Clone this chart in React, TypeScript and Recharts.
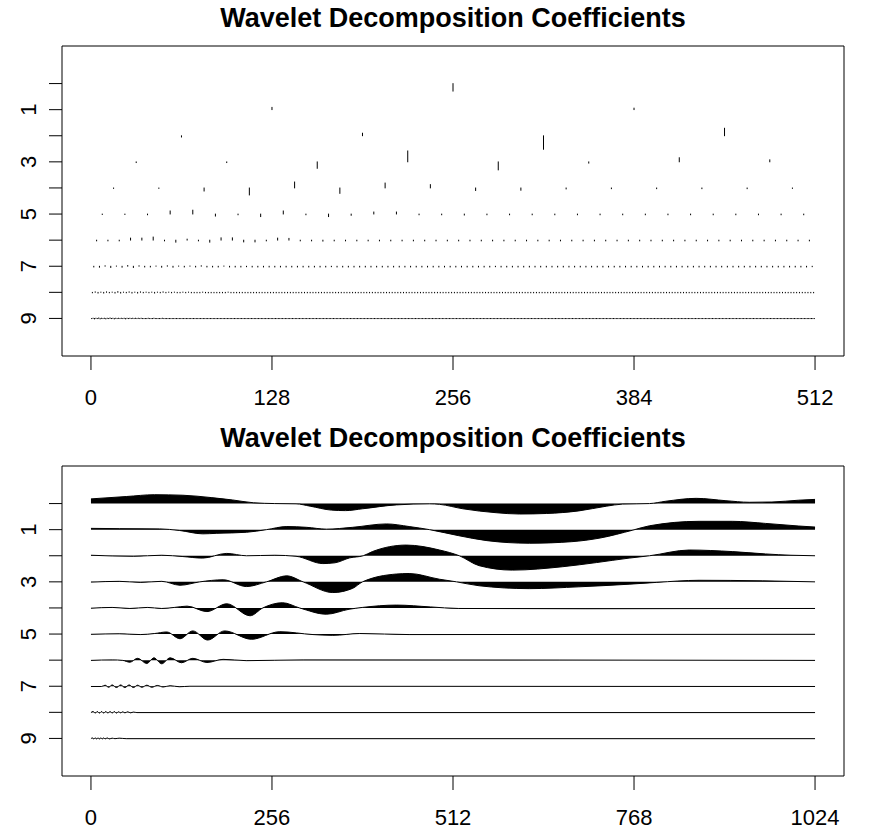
import { ComposedChart, Line, Area, XAxis, YAxis, ReferenceArea } from "recharts";

const FONT = '"Liberation Sans", Arial, Helvetica, sans-serif';
const TITLE = "Wavelet Decomposition Coefficients";

const levels = [0, 1, 2, 3, 4, 5, 6, 7, 8, 9];
const dwtTicks = [0, 128, 256, 384, 512];
const ndwtTicks = [0, 256, 512, 768, 1024];

// top panel: one mark per coefficient, value in level units (+ = drawn downwards)
const dwtLevel0 = [0.29];
const dwtLevel1 = [-0.09, -0.06];
const dwtLevel2 = [0.05, -0.1, 0.52, -0.29];
const dwtLevel3 = [0.03, 0.03, 0.25, -0.42, 0.31, 0.05, -0.16, -0.08];
const dwtLevel4 = [0.02, 0.02, 0.12, 0.27, -0.23, 0.21, -0.19, -0.13, 0.1, 0.09, 0.04, 0.03, 0.03, 0.03, 0.03, 0.02];
const dwtLevel5 = [
  0.02, 0.02, 0.03, -0.12, -0.15, 0.08, 0.03, 0.1, -0.12, 0.03, 0.1, 0.05, -0.08, -0.08, 0.03, 0.03,
  0.04, 0.03, 0.03, 0.03, 0.03, 0.03, 0.03, 0.03, 0.03, 0.03, 0.03, 0.03, 0.03, 0.03, 0.03, 0.03,
];
const dwtLevel6 = [
  0.03, 0.03, 0.03, -0.08, -0.08, -0.12, 0.03, 0.08, -0.04, 0.03, 0.08, -0.09, -0.09, 0.07, 0.07, 0.03,
  -0.08, -0.07, 0.03, 0.03, 0.04, 0.03, 0.03, 0.03, 0.03, 0.03, 0.03, 0.03, 0.03, 0.03, 0.03, 0.03,
  0.03, 0.03, 0.03, 0.03, 0.03, 0.03, 0.03, 0.03, 0.03, 0.03, 0.03, 0.03, 0.03, 0.03, 0.03, 0.03,
  0.03, 0.03, 0.03, 0.03, 0.03, 0.03, 0.03, 0.03, 0.03, 0.03, 0.03, 0.03, 0.03, 0.03, 0.03, 0.03,
];
// finest levels written as one char per coefficient: "0"-"9" = +hundredths, "a"-"i" = -hundredths
const dwtLevel7 =
  "34b5a4c5b33a4b4a3a3b333a33323333" +
  "33333333332333333333333333333333" +
  "33333332333333333333333333333333" +
  "33333333333333333333333333333332";
const dwtLevel8 =
  "2b3a3b2a3c3a2b3a3b2a2a3a2b2a2a22" +
  "a2a2222a22222222a222222222222222" +
  "22222222222222222222222222222222" +
  "22222222222222222222222222222222" +
  "22222222222222222222222222222222" +
  "22222222222222222222222222222222" +
  "22222222222222222222222222222222" +
  "22222222222222222222222222222222";
const dwtLevel9 =
  "1a2a1b2a1a2a1b1a2a1a1a1a2a1a1a1a" +
  "1a1a1111a111a11111a1111111111111" +
  "11111111111111111111111111111111" +
  "11111111111111111111111111111111" +
  "11111111111111111111111111111111" +
  "11111111111111111111111111111111" +
  "11111111111111111111111111111111" +
  "11111111111111111111111111111111" +
  "11111111111111111111111111111111" +
  "11111111111111111111111111111111" +
  "11111111111111111111111111111111" +
  "11111111111111111111111111111111" +
  "11111111111111111111111111111111" +
  "11111111111111111111111111111111" +
  "11111111111111111111111111111111" +
  "11111111111111111111111111111111";

// bottom panel: [position, value] knots per level (+ = below the level line)
const ndwtLevel0 = [
  [0, -0.18], [50, -0.27], [90, -0.34], [130, -0.32], [170, -0.23], [200, -0.14], [230, -0.03], [260, 0],
  [290, 0.01], [310, 0.1], [340, 0.25], [360, 0.27], [384, 0.2], [432, 0.05], [479, 0.01], [493, 0.03],
  [526, 0.2], [573, 0.35], [606, 0.4], [644, 0.38], [690, 0.28], [729, 0.1], [752, 0.02], [790, 0],
  [813, -0.09], [856, -0.2], [898, -0.11], [931, -0.05], [963, -0.06], [1001, -0.13], [1024, -0.16],
];
const ndwtLevel1 = [
  [0, -0.05], [40, -0.04], [97, -0.03], [125, 0.03], [158, 0.16], [178, 0.14], [220, 0.1], [248, 0],
  [277, -0.12], [305, -0.09], [333, -0.02], [370, -0.09], [418, -0.22], [450, -0.12], [479, 0],
  [520, 0.23], [560, 0.42], [620, 0.52], [680, 0.46], [720, 0.32], [766, 0.02], [790, -0.15],
  [860, -0.32], [907, -0.32], [954, -0.24], [1001, -0.14], [1024, -0.1],
];
const ndwtLevel2 = [
  [0, -0.02], [60, 0.02], [100, -0.02], [130, 0.03], [158, 0.09], [192, -0.09], [220, 0], [260, -0.02],
  [290, 0.02], [328, 0.3], [345, 0.27], [366, 0.08], [385, 0], [398, -0.16], [446, -0.41], [493, -0.22],
  [521, 0], [549, 0.38], [596, 0.55], [667, 0.42], [715, 0.26], [761, 0.09], [790, 0], [846, -0.22],
  [907, -0.16], [954, -0.07], [990, -0.02], [1024, 0],
];
const ndwtLevel3 = [
  [0, 0.01], [40, -0.02], [70, 0.02], [100, -0.02], [126, 0.13], [154, 0], [187, -0.08], [220, 0.18],
  [248, 0], [277, -0.23], [300, 0], [342, 0.41], [370, 0.25], [384, 0], [432, -0.3], [450, -0.32],
  [493, -0.1], [517, 0], [549, 0.15], [620, 0.26], [690, 0.19], [761, 0.09], [800, 0.02], [860, -0.06],
  [950, -0.04], [1024, 0],
];
const ndwtLevel4 = [
  [0, 0.01], [30, -0.02], [55, 0.02], [80, -0.02], [100, 0.02], [118, -0.02], [136, -0.07], [164, 0.14],
  [192, -0.16], [225, 0.3], [243, 0], [271, -0.2], [295, 0], [333, 0.24], [365, 0.05], [384, -0.02],
  [432, -0.11], [480, -0.04], [520, 0.02], [700, 0.03], [1024, 0.02],
];
const ndwtLevel5 = [
  [0, 0.01], [40, -0.01], [70, 0.02], [90, -0.02], [107, -0.08], [126, 0.18], [144, -0.12], [165, 0.23],
  [189, -0.12], [227, 0.2], [267, -0.09], [314, 0.02], [342, 0.05], [380, -0.02], [450, 0.02], [1024, 0.01],
];
const ndwtLevel6 = [
  [0, 0.01], [30, -0.01], [45, 0.01], [55, 0.08], [66, -0.07], [79, 0.13], [89, -0.09], [100, 0.14],
  [112, -0.09], [128, 0.1], [144, -0.07], [164, 0.09], [187, -0.03], [220, 0.02], [300, -0.01], [1024, 0.01],
];
const ndwtLevel7 = [
  [0, 0.01], [15, 0.01], [20, -0.04], [25, 0.04], [30, -0.05], [36, 0.05], [42, -0.05], [48, 0.05],
  [54, -0.05], [60, 0.05], [66, -0.04], [72, 0.04], [79, -0.04], [86, 0.04], [94, -0.03], [102, 0.03],
  [112, -0.02], [125, 0.02], [140, 0], [1024, 0.01],
];
const ndwtLevel8 = [
  [0, 0.01], [3, -0.03], [6, 0.03], [9, -0.03], [12, 0.03], [15, -0.03], [18, 0.03], [21, -0.03],
  [24, 0.03], [27, -0.03], [30, 0.03], [33, -0.03], [36, 0.03], [39, -0.02], [42, 0.02], [45, -0.02],
  [48, 0.02], [52, -0.02], [56, 0.02], [60, -0.01], [65, 0.01], [1024, 0.01],
];
const ndwtLevel9 = [
  [0, 0.01], [2, -0.02], [4, 0.02], [6, -0.02], [8, 0.02], [10, -0.02], [12, 0.02], [14, -0.02],
  [16, 0.02], [18, -0.02], [20, 0.02], [23, -0.02], [26, 0.02], [30, -0.01], [34, 0.01], [40, -0.01],
  [50, 0.01], [1024, 0.01],
];

const decodeMarks = (code: string) =>
  code.split("").map((c) => (c >= "a" ? -(c.charCodeAt(0) - 96) / 100 : Number(c) / 100));

const dwtCoefs = [
  dwtLevel0, dwtLevel1, dwtLevel2, dwtLevel3, dwtLevel4, dwtLevel5, dwtLevel6,
  decodeMarks(dwtLevel7), decodeMarks(dwtLevel8), decodeMarks(dwtLevel9),
];
const ndwtKnots = [
  ndwtLevel0, ndwtLevel1, ndwtLevel2, ndwtLevel3, ndwtLevel4,
  ndwtLevel5, ndwtLevel6, ndwtLevel7, ndwtLevel8, ndwtLevel9,
];

// segments: base point, tip point, then a gap
const dwtData = dwtCoefs.flatMap((coefs, level) => {
  const step = 512 / coefs.length;
  return coefs.flatMap((v, k) => {
    const x = (k + 0.5) * step;
    return [
      { x, y: level },
      { x, y: level + v },
      { x, y: null },
    ];
  });
});

const ndwtData = ndwtKnots.flatMap((knots, level) =>
  knots.map(([x, v]) => ({ x, [`l${level}`]: level + v }))
);

const Y_DOMAIN = [-1.44, 10.44];

const XTick = (props: any) => {
  const { x, y, payload } = props;
  return (
    <text x={x} y={y + 33} textAnchor="middle" fontSize={22} fontFamily={FONT} fill="#000">
      {payload.value}
    </text>
  );
};

const YTick = (props: any) => {
  const { y, payload } = props;
  if (payload.value % 2 === 0) return <g />;
  return (
    <text
      x={36}
      y={y}
      transform={`rotate(-90, 36, ${y})`}
      textAnchor="middle"
      fontSize={22}
      fontFamily={FONT}
      fill="#000"
    >
      {payload.value}
    </text>
  );
};

function Title({ top }: { top: number }) {
  return (
    <div
      style={{
        position: "absolute",
        left: 62,
        width: 782,
        top,
        textAlign: "center",
        fontFamily: FONT,
        fontWeight: "bold",
        fontSize: 27,
        lineHeight: "32px",
        color: "#000",
      }}
    >
      {TITLE}
    </div>
  );
}

function Axes({ xMax, ticks }: { xMax: number; ticks: number[] }) {
  const pad = xMax * 0.04;
  return [
    <XAxis
      key="x"
      type="number"
      dataKey="x"
      domain={[-pad, xMax + pad]}
      allowDataOverflow
      ticks={ticks}
      interval={0}
      axisLine={false}
      tickLine={{ stroke: "#000" }}
      tickSize={14}
      height={60}
      tick={(p: any) => <XTick {...p} />}
    />,
    <YAxis
      key="y"
      type="number"
      domain={Y_DOMAIN}
      allowDataOverflow
      reversed
      ticks={levels}
      interval={0}
      axisLine={false}
      tickLine={{ stroke: "#000" }}
      tickSize={13}
      width={62}
      tick={(p: any) => <YTick {...p} />}
    />,
    <ReferenceArea
      key="box"
      x1={-pad}
      x2={xMax + pad}
      y1={Y_DOMAIN[0]}
      y2={Y_DOMAIN[1]}
      fill="none"
      stroke="#000"
      strokeWidth={1}
      ifOverflow="visible"
    />,
  ];
}

export default function App() {
  return (
    <div
      style={{
        position: "absolute",
        left: 0,
        top: 0,
        width: 877,
        height: 832,
        overflow: "hidden",
        background: "#fff",
      }}
    >
      <Title top={2} />
      <div style={{ position: "absolute", left: 0, top: 0 }}>
        <ComposedChart width={877} height={420} data={dwtData} margin={{ top: 46, right: 33, bottom: 4, left: 0 }}>
          {Axes({ xMax: 512, ticks: dwtTicks })}
          <Line
            dataKey="y"
            type="linear"
            stroke="#000"
            strokeWidth={1}
            strokeLinecap="round"
            dot={false}
            activeDot={false}
            connectNulls={false}
            isAnimationActive={false}
          />
        </ComposedChart>
      </div>
      <Title top={422} />
      <div style={{ position: "absolute", left: 0, top: 420 }}>
        <ComposedChart width={877} height={420} data={ndwtData} margin={{ top: 46, right: 33, bottom: 4, left: 0 }}>
          {Axes({ xMax: 1024, ticks: ndwtTicks })}
          {levels.map((level) => (
            <Area
              key={level}
              dataKey={`l${level}`}
              type="monotone"
              baseValue={level}
              connectNulls
              fill="#000"
              fillOpacity={1}
              stroke="#000"
              strokeWidth={1}
              dot={false}
              activeDot={false}
              isAnimationActive={false}
            />
          ))}
        </ComposedChart>
      </div>
    </div>
  );
}
